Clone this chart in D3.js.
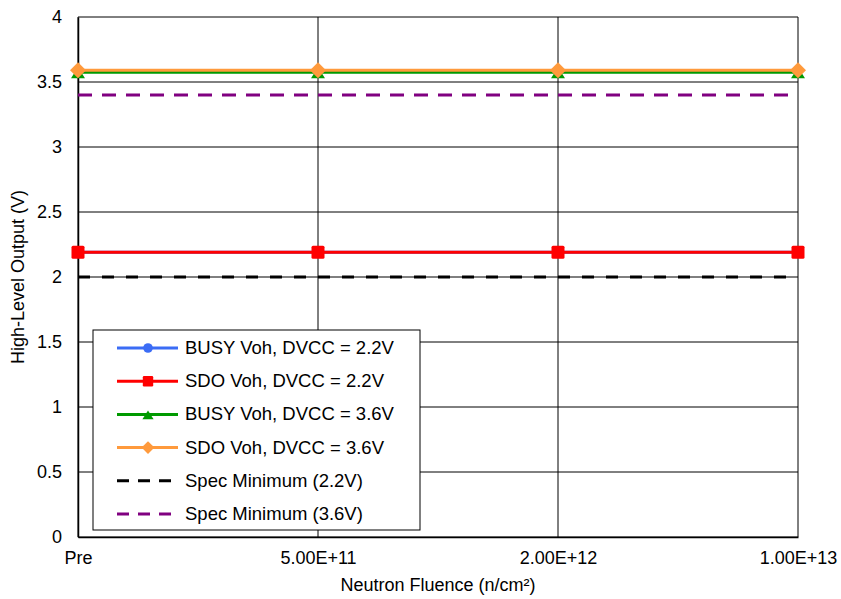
<!DOCTYPE html>
<html>
<head>
<meta charset="utf-8">
<script src="https://cdn.jsdelivr.net/npm/d3@7"></script>
<style>
  body { margin: 0; background: #fff; }
  text { font-family: "Liberation Sans", Arial, sans-serif; fill: #000; }
</style>
</head>
<body>
<div id="chart"></div>
<script>
var categories = ["Pre", "5.00E+11", "2.00E+12", "1.00E+13"]
var busy22 = [2.19, 2.19, 2.19, 2.19]
var sdo22 = [2.19, 2.19, 2.19, 2.19]
var busy36 = [3.575, 3.575, 3.575, 3.575]
var sdo36 = [3.59, 3.59, 3.59, 3.59]
var spec22 = [2.0, 2.0, 2.0, 2.0]
var spec36 = [3.4, 3.4, 3.4, 3.4]
var yTicks = [0, 0.5, 1, 1.5, 2, 2.5, 3, 3.5, 4]

var series = [
  { name: "BUSY Voh, DVCC = 2.2V", values: busy22, colour: "#3b6cf5", marker: "circle", dash: null, width: 3 },
  { name: "SDO Voh, DVCC = 2.2V", values: sdo22, colour: "#ff0000", marker: "square", dash: null, width: 3 },
  { name: "BUSY Voh, DVCC = 3.6V", values: busy36, colour: "#009a00", marker: "triangle", dash: null, width: 3 },
  { name: "SDO Voh, DVCC = 3.6V", values: sdo36, colour: "#ff9a3c", marker: "diamond", dash: null, width: 3 },
  { name: "Spec Minimum (2.2V)", values: spec22, colour: "#000000", marker: null, dash: "12,12", width: 3 },
  { name: "Spec Minimum (3.6V)", values: spec36, colour: "#800080", marker: null, dash: "14,10", width: 3 }
]

var W = 841, H = 599
var margin = { left: 78, right: 43, top: 17, bottom: 62 }
var font = "Liberation Sans, Arial, sans-serif"

var svg = d3.select("#chart").append("svg")
  .attr("width", W)
  .attr("height", H)

var x = d3.scalePoint()
  .domain(categories)
  .range([margin.left, W - margin.right])

var y = d3.scaleLinear()
  .domain([0, 4])
  .range([H - margin.bottom, margin.top])

// horizontal grid
svg.append("g")
  .selectAll("line")
  .data(yTicks)
  .enter().append("line")
    .attr("x1", margin.left).attr("x2", W - margin.right)
    .attr("y1", d => y(d)).attr("y2", d => y(d))
    .attr("stroke", "#000").attr("stroke-width", 1)

// vertical grid
svg.append("g")
  .selectAll("line")
  .data(categories)
  .enter().append("line")
    .attr("x1", d => x(d)).attr("x2", d => x(d))
    .attr("y1", margin.top).attr("y2", H - margin.bottom)
    .attr("stroke", "#000").attr("stroke-width", 1)

// axes
var yAxis = svg.append("g")
  .attr("transform", "translate(" + margin.left + ",0)")
  .call(d3.axisLeft(y).tickValues(yTicks).tickSize(0).tickPadding(16).tickFormat(d3.format("")))
yAxis.select(".domain").attr("stroke", "#000").attr("stroke-width", 1.5)
yAxis.selectAll("text").style("font-size", "18px").style("font-family", font)

var xAxis = svg.append("g")
  .attr("transform", "translate(0," + (H - margin.bottom) + ")")
  .call(d3.axisBottom(x).tickSize(0).tickPadding(14))
xAxis.select(".domain").attr("stroke", "#000").attr("stroke-width", 1.5)
xAxis.selectAll("text").style("font-size", "18px").style("font-family", font)

svg.append("text")
  .attr("x", (margin.left + W - margin.right) / 2)
  .attr("y", 591)
  .attr("text-anchor", "middle")
  .style("font-size", "18px")
  .text("Neutron Fluence (n/cm²)")

svg.append("text")
  .attr("transform", "translate(24," + 277 + ") rotate(-90)")
  .attr("text-anchor", "middle")
  .style("font-size", "18px")
  .text("High-Level Output (V)")

function drawMarker(g, type, colour, cx, cy) {
  if (type == "circle") {
    g.append("circle").attr("cx", cx).attr("cy", cy).attr("r", 6).attr("fill", colour)
  } else if (type == "square") {
    g.append("rect").attr("x", cx - 6.5).attr("y", cy - 6.5).attr("width", 13).attr("height", 13)
      .attr("rx", 1.5).attr("fill", colour)
  } else if (type == "triangle") {
    g.append("path").attr("d", "M" + cx + "," + (cy - 5) + "L" + (cx + 7) + "," + (cy + 6) + "L" + (cx - 7) + "," + (cy + 6) + "Z")
      .attr("fill", colour)
  } else if (type == "diamond") {
    g.append("path").attr("d", "M" + cx + "," + (cy - 8) + "L" + (cx + 8) + "," + cy + "L" + cx + "," + (cy + 8) + "L" + (cx - 8) + "," + cy + "Z")
      .attr("fill", colour)
  }
}

var line = d3.line()
  .x((d, i) => x(categories[i]))
  .y(d => y(d))

// dashed spec lines first, then the measured series
var order = [4, 5, 0, 1, 2, 3]
order.forEach(function (k) {
  var s = series[k]
  var g = svg.append("g")
  g.append("path")
    .attr("d", line(s.values))
    .attr("fill", "none")
    .attr("stroke", s.colour)
    .attr("stroke-width", s.width)
    .attr("stroke-dasharray", s.dash)
  if (s.marker) {
    s.values.forEach(function (v, i) {
      drawMarker(g, s.marker, s.colour, x(categories[i]), y(v))
    })
  }
})

// legend
var lg = svg.append("g").attr("transform", "translate(93,330)")
lg.append("rect")
  .attr("width", 327).attr("height", 200)
  .attr("fill", "#fff").attr("stroke", "#000").attr("stroke-width", 1)

series.forEach(function (s, i) {
  var ly = 18 + i * 33.2
  lg.append("line")
    .attr("x1", 24).attr("x2", 85)
    .attr("y1", ly).attr("y2", ly)
    .attr("stroke", s.colour)
    .attr("stroke-width", 3)
    .attr("stroke-dasharray", s.dash ? "12,9" : null)
  if (s.marker) {
    var m = lg.append("g")
    m.attr("transform", "translate(55," + ly + ") scale(0.8)")
    drawMarker(m, s.marker, s.colour, 0, 0)
  }
  lg.append("text")
    .attr("x", 92).attr("y", ly + 6)
    .style("font-size", "18.5px")
    .text(s.name)
})
</script>
</body>
</html>
